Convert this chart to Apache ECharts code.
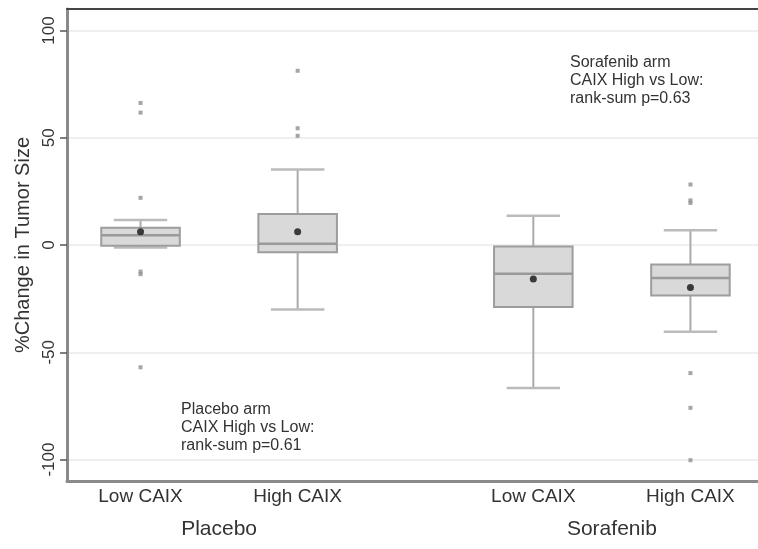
<!DOCTYPE html>
<html>
<head>
<meta charset="utf-8">
<script src="https://cdn.jsdelivr.net/npm/echarts@6/dist/echarts.min.js"></script>
<style>
  html, body { margin: 0; padding: 0; background: #fff; }
  #chart { width: 758px; height: 549px; }
</style>
</head>
<body>
<div id="chart"></div>
<script>
// box groups along the x axis (gap between the two arms)
const groups = ['Low CAIX', 'High CAIX', 'Low CAIX', 'High CAIX'];
const positions = [1, 2, 3.5, 4.5];
const arms = ['Placebo', 'Sorafenib'];
const armPositions = [1.5, 4];
const yTicks = [-100, -50, 0, 50, 100];

// [lower whisker, Q1, median, Q3, upper whisker]
const boxStats = [
  [-1.2, -0.3, 4.5, 8.0, 11.6],
  [-30.1, -3.4, 0.6, 14.5, 35.2],
  [-66.7, -28.9, -13.4, -0.7, 13.6],
  [-40.4, -23.5, -15.4, -9.1, 6.9]
];
const means = [6.2, 6.2, -15.9, -19.8];
const outliers = [
  [66.2, 61.7, 22.0, -12.4, -13.6, -57.0],
  [81.2, 54.4, 50.9],
  [],
  [28.2, 20.8, 19.6, -59.7, -75.9, -100.3]
];

const font = "'Liberation Sans', Arial, sans-serif";

let boxData = positions.map((p, i) => [p].concat(boxStats[i]));
let meanData = positions.map((p, i) => [p, means[i]]);
let outlierData = [];
positions.forEach((p, i) => {
  for (let v of outliers[i]) outlierData.push([p, v]);
});

let renderBox = (params, api) => {
  let x = api.value(0);
  let lo = api.coord([x, api.value(1)]);
  let q1 = api.coord([x, api.value(2)]);
  let med = api.coord([x, api.value(3)]);
  let q3 = api.coord([x, api.value(4)]);
  let hi = api.coord([x, api.value(5)]);
  let halfBox = api.size([0.25, 0])[0];
  let halfCap = api.size([0.17, 0])[0];
  let cx = lo[0];
  let line = (x1, y1, x2, y2, color, w) => ({
    type: 'line',
    shape: { x1: x1, y1: y1, x2: x2, y2: y2 },
    style: { stroke: color, lineWidth: w }
  });
  return {
    type: 'group',
    children: [
      line(cx, q3[1], cx, hi[1], '#aaa', 2),
      line(cx, q1[1], cx, lo[1], '#aaa', 2),
      line(cx - halfCap, hi[1], cx + halfCap, hi[1], '#bbb', 2.5),
      line(cx - halfCap, lo[1], cx + halfCap, lo[1], '#bbb', 2.5),
      {
        type: 'rect',
        shape: { x: cx - halfBox, y: q3[1], width: halfBox * 2, height: q1[1] - q3[1] },
        style: { fill: '#d9d9d9', stroke: '#9d9d9d', lineWidth: 2 }
      },
      line(cx - halfBox, med[1], cx + halfBox, med[1], '#9a9a9a', 2.5)
    ]
  };
};

let chart = echarts.init(document.getElementById('chart'), null, { renderer: 'canvas' });

let xBase = {
  type: 'value',
  min: 0.532,
  max: 4.93,
  axisTick: { show: false },
  splitLine: { show: false }
};

let option = {
  backgroundColor: '#fff',
  animation: false,
  grid: { left: 67, top: 9, right: 0, bottom: 68 },
  xAxis: [
    {
      ...xBase,
      position: 'bottom',
      axisLine: { show: true, onZero: false, lineStyle: { color: '#8a8a8a', width: 3 } },
      axisLabel: {
        customValues: positions,
        formatter: (v) => groups[positions.indexOf(v)] || '',
        color: '#333',
        fontSize: 19,
        fontFamily: font,
        margin: 6
      }
    },
    {
      ...xBase,
      position: 'bottom',
      axisLine: { show: false, onZero: false },
      axisLabel: {
        customValues: armPositions,
        formatter: (v) => arms[armPositions.indexOf(v)] || '',
        color: '#333',
        fontSize: 21,
        fontFamily: font,
        margin: 38
      }
    },
    {
      ...xBase,
      position: 'top',
      axisLine: { show: true, onZero: false, lineStyle: { color: '#444', width: 2 } },
      axisLabel: { show: false }
    }
  ],
  yAxis: {
    type: 'value',
    min: -110,
    max: 110,
    name: '%Change in Tumor Size',
    nameLocation: 'middle',
    nameGap: 25,
    nameTextStyle: { color: '#333', fontSize: 20, fontFamily: font },
    axisLine: { show: true, onZero: false, lineStyle: { color: '#8a8a8a', width: 3 } },
    axisTick: { show: true, customValues: yTicks, length: 7, lineStyle: { color: '#555', width: 1.5 } },
    axisLabel: {
      customValues: yTicks,
      rotate: 90,
      color: '#333',
      fontSize: 17,
      fontFamily: font,
      margin: 9
    },
    splitLine: { show: true, lineStyle: { color: '#efefef', width: 2 } }
  },
  series: [
    {
      type: 'custom',
      renderItem: renderBox,
      encode: { x: 0, y: [1, 2, 3, 4, 5] },
      data: boxData,
      z: 2
    },
    {
      type: 'scatter',
      symbol: 'rect',
      symbolSize: 4,
      itemStyle: { color: '#8f8f8f' },
      data: outlierData,
      z: 3
    },
    {
      type: 'scatter',
      symbol: 'circle',
      symbolSize: 7,
      itemStyle: { color: '#111' },
      data: meanData,
      z: 4
    }
  ],
  graphic: [
    {
      type: 'text',
      left: 181,
      top: 401,
      style: {
        text: 'Placebo arm\nCAIX High vs Low:\nrank-sum p=0.61',
        font: '16px ' + font,
        lineHeight: 18,
        fill: '#333'
      }
    },
    {
      type: 'text',
      left: 570,
      top: 54,
      style: {
        text: 'Sorafenib arm\nCAIX High vs Low:\nrank-sum p=0.63',
        font: '16px ' + font,
        lineHeight: 18,
        fill: '#333'
      }
    }
  ]
};

chart.setOption(option);
</script>
</body>
</html>
